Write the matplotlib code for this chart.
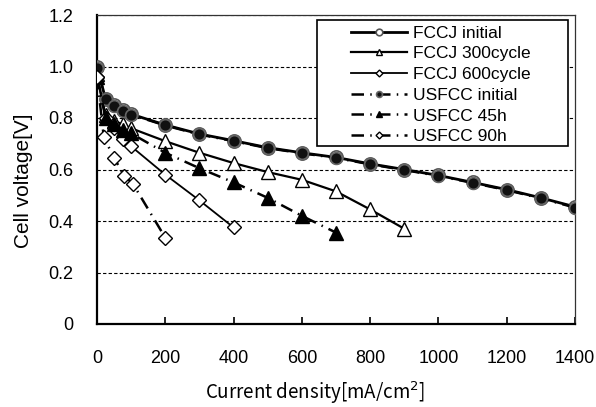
import matplotlib
matplotlib.use("Agg")
import matplotlib.pyplot as plt
from matplotlib.patches import Rectangle

plt.rcParams['font.family'] = ['Liberation Sans', 'DejaVu Sans']

# Data
x_fccj_init = [0, 25, 50, 75, 100, 200, 300, 400, 500, 600, 700, 800, 900, 1000, 1100, 1200, 1300, 1400]
y_fccj_init = [1.0, 0.874, 0.85, 0.83, 0.815, 0.773, 0.738, 0.712, 0.685, 0.665, 0.647, 0.622, 0.6, 0.577, 0.55, 0.522, 0.49, 0.455]

x_usfcc_init = [0, 25, 50, 75, 100, 200, 300, 400, 500, 600, 700, 800, 900, 1000, 1100, 1200, 1300, 1400]
y_usfcc_init = [0.995, 0.872, 0.848, 0.828, 0.813, 0.771, 0.736, 0.71, 0.683, 0.663, 0.645, 0.62, 0.598, 0.575, 0.548, 0.52, 0.488, 0.452]

x_fccj_300 = [0, 25, 50, 75, 100, 200, 300, 400, 500, 600, 700, 800, 900]
y_fccj_300 = [0.97, 0.81, 0.79, 0.775, 0.76, 0.71, 0.665, 0.625, 0.59, 0.56, 0.515, 0.445, 0.37]

x_fccj_600 = [0, 25, 50, 75, 100, 200, 300, 400]
y_fccj_600 = [0.96, 0.8, 0.76, 0.72, 0.69, 0.58, 0.48, 0.375]

x_usfcc_45 = [0, 25, 50, 75, 100, 200, 300, 400, 500, 600, 700]
y_usfcc_45 = [0.96, 0.8, 0.775, 0.755, 0.74, 0.665, 0.605, 0.55, 0.49, 0.42, 0.355]

x_usfcc_90 = [0, 20, 50, 80, 105, 200]
y_usfcc_90 = [0.96, 0.725, 0.645, 0.575, 0.545, 0.335]

xticks = [0, 200, 400, 600, 800, 1000, 1200, 1400]
yticks = [0, 0.2, 0.4, 0.6, 0.8, 1.0, 1.2]
ytick_labels = ['0', '0.2', '0.4', '0.6', '0.8', '1.0', '1.2']

W, H = 596, 407
fig = plt.figure(figsize=(W / 100, H / 100), dpi=100)
ax = fig.add_axes([97 / W, 1 - 324 / H, (575 - 97) / W, (324 - 15) / H])

dash = (5, 2.5, 0.6, 2.5)

ax.plot(x_fccj_init, y_fccj_init, '-', color='black', lw=2.0, marker='o', ms=9.5,
        mfc='white', mec='#555555', mew=1.2, label='FCCJ initial', zorder=3)
ax.plot(x_fccj_300, y_fccj_300, '-', color='black', lw=1.6, marker='^', ms=9.5,
        mfc='white', mec='black', mew=1.0, label='FCCJ 300cycle', zorder=3)
ax.plot(x_fccj_600, y_fccj_600, '-', color='black', lw=1.3, marker='D', ms=7,
        mfc='white', mec='black', mew=1.0, label='FCCJ 600cycle', zorder=3)
ax.plot(x_usfcc_init, y_usfcc_init, color='black', lw=1.8, ls=(0, dash), marker='o', ms=8.5,
        mfc='#111111', mec='#666666', mew=1.2, label='USFCC initial', zorder=4)
ax.plot(x_usfcc_45, y_usfcc_45, color='black', lw=1.8, ls=(0, dash), marker='^', ms=9.5,
        mfc='black', mec='black', label='USFCC 45h', zorder=4)
ax.plot(x_usfcc_90, y_usfcc_90, color='black', lw=1.8, ls=(0, dash), marker='D', ms=7,
        mfc='white', mec='black', mew=1.0, label='USFCC 90h', zorder=4)

ax.set_xlim(0, 1400)
ax.set_ylim(0, 1.2)
ax.set_xticks(xticks)
ax.set_yticks(yticks)
ax.set_yticklabels(ytick_labels)
ax.tick_params(axis='x', direction='in', length=5, width=1.2, pad=19, labelsize=13)
ax.tick_params(axis='y', length=0, pad=17, labelsize=13)

for y in yticks[1:]:
    ax.axhline(y, color='black', lw=0.8, ls=(0, (3, 2)), zorder=1)

for s in ['left', 'bottom']:
    ax.spines[s].set_linewidth(1.6)
for s in ['right', 'top']:
    ax.spines[s].set_linewidth(0.9)
    ax.spines[s].set_color('#333333')

ax.set_xlabel('Current density[mA/cm$^2$]', family=['Noto Sans CJK JP', 'DejaVu Sans'],
              fontsize=13.5, labelpad=9)
ax.xaxis.label.set_x((315 - 97) / 478)
ax.set_ylabel('Cell voltage[V]', fontsize=15, labelpad=11)
ax.yaxis.label.set_y((324 - 181) / 309)

# legend: text block positioned inside a wider frame
leg = ax.legend(loc='upper right', bbox_to_anchor=((536 - 97) / 478, (324 - 20) / 309),
                fontsize=12.5, handlelength=3.2, markerscale=0.5, labelspacing=0.32,
                frameon=False, borderpad=0.32, handletextpad=0.35, borderaxespad=0)
leg.set_zorder(6)

rx0, rx1, ry0, ry1 = 317, 568, 20, 146
rect = Rectangle((rx0 / W, 1 - ry1 / H), (rx1 - rx0) / W, (ry1 - ry0) / H,
                 transform=fig.transFigure, facecolor='white', edgecolor='black',
                 lw=1.2, zorder=5)
fig.add_artist(rect)
leg.remove()
fig.add_artist(leg)

fig.savefig('out.png', dpi=100)
